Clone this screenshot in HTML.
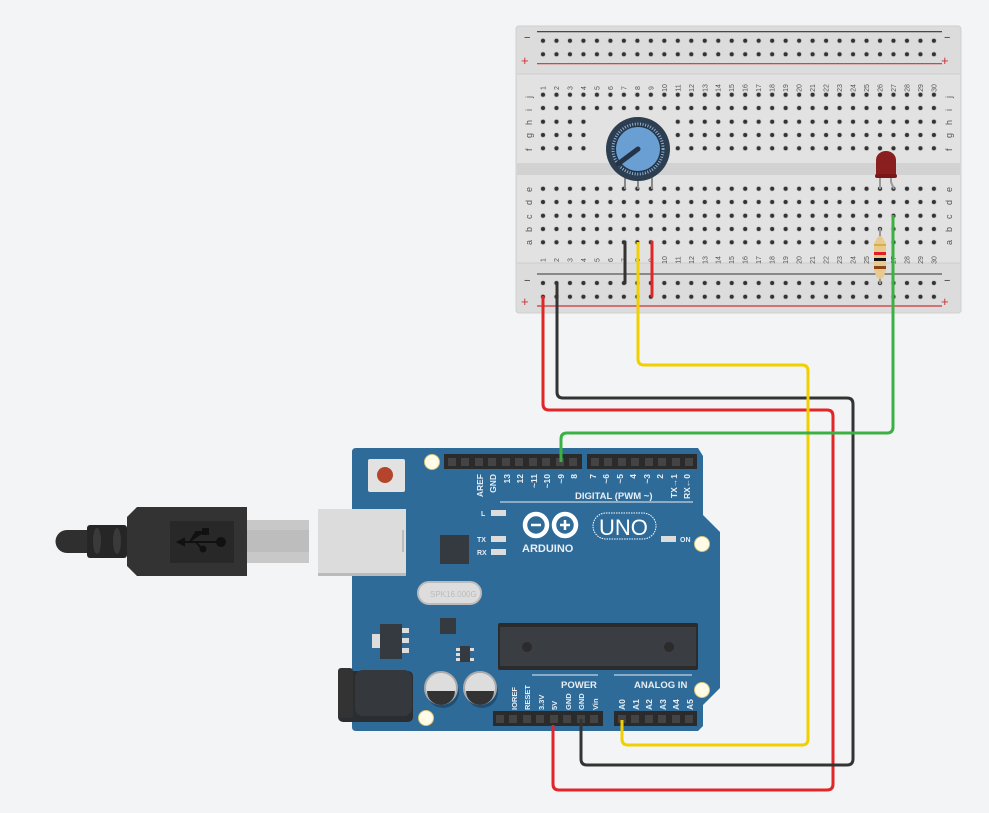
<!DOCTYPE html>
<html><head><meta charset="utf-8"><style>
html,body{margin:0;padding:0;background:#f3f4f6;}
svg{display:block;}
text{font-family:"Liberation Sans",sans-serif;}
</style></head><body>
<svg width="989" height="813" viewBox="0 0 989 813" xmlns="http://www.w3.org/2000/svg">
<rect width="989" height="813" fill="#f3f4f6"/>

<!-- Breadboard -->
<rect x="516" y="26" width="445" height="287" rx="3" fill="#dcdcdc" stroke="#cfcfcf"/>
<rect x="517" y="74" width="443" height="189" fill="#e2e2e2"/>
<rect x="517" y="163" width="443" height="12" fill="#d2d2d2"/>
<line x1="517" y1="74" x2="960" y2="74" stroke="#cdcdcd"/>
<line x1="517" y1="263" x2="960" y2="263" stroke="#cdcdcd"/>
<line x1="537" y1="31.7" x2="942" y2="31.7" stroke="#333" stroke-width="1.2"/>
<line x1="537" y1="63.7" x2="942" y2="63.7" stroke="#c33" stroke-width="1.2"/>
<line x1="537" y1="274" x2="942" y2="274" stroke="#555" stroke-width="1.2"/>
<line x1="537" y1="306" x2="942" y2="306" stroke="#c33" stroke-width="1.2"/>
<g font-size="11" fill="#333">
<text x="524" y="41">−</text><text x="944" y="41">−</text>
<text x="524" y="284">−</text><text x="944" y="284">−</text>
</g>
<g font-size="13" fill="#c33">
<text x="521" y="65">+</text><text x="941" y="65">+</text>
<text x="521" y="306">+</text><text x="941" y="306">+</text>
</g>
<g fill="#333" id="allholes"></g>

<g font-size="7" fill="#555" id="nums"></g>
<g font-size="9" fill="#555">
<text transform="translate(532,98) rotate(-90)">j</text>
<text transform="translate(532,111) rotate(-90)">i</text>
<text transform="translate(532,125) rotate(-90)">h</text>
<text transform="translate(532,138) rotate(-90)">g</text>
<text transform="translate(532,151) rotate(-90)">f</text>
<text transform="translate(532,192) rotate(-90)">e</text>
<text transform="translate(532,205) rotate(-90)">d</text>
<text transform="translate(532,219) rotate(-90)">c</text>
<text transform="translate(532,232) rotate(-90)">b</text>
<text transform="translate(532,245) rotate(-90)">a</text>
<text transform="translate(952,98) rotate(-90)">j</text>
<text transform="translate(952,111) rotate(-90)">i</text>
<text transform="translate(952,125) rotate(-90)">h</text>
<text transform="translate(952,138) rotate(-90)">g</text>
<text transform="translate(952,151) rotate(-90)">f</text>
<text transform="translate(952,192) rotate(-90)">e</text>
<text transform="translate(952,205) rotate(-90)">d</text>
<text transform="translate(952,219) rotate(-90)">c</text>
<text transform="translate(952,232) rotate(-90)">b</text>
<text transform="translate(952,245) rotate(-90)">a</text>
</g>

<!-- Potentiometer -->
<g stroke="#888" stroke-width="2"><line x1="625" y1="175" x2="625" y2="189"/><line x1="638" y1="175" x2="638" y2="189"/><line x1="652" y1="175" x2="652" y2="189"/></g>
<circle cx="638" cy="149" r="32" fill="#2c3e50"/>
<circle cx="638" cy="149" r="25" fill="#243444"/>
<circle cx="638" cy="149" r="25" fill="none" stroke="#8fb3d9" stroke-width="3" stroke-dasharray="1 1.6"/>
<circle cx="638" cy="149" r="22" fill="#6a9fd4"/>
<line x1="638" y1="149" x2="618" y2="164" stroke="#243444" stroke-width="5" stroke-linecap="round"/>

<!-- LED -->
<g stroke="#999" stroke-width="2" fill="none"><line x1="880" y1="176" x2="880" y2="189"/><path d="M891 176 L891 182 L894 189"/></g>
<path d="M876 177 L876 160 A10 9 0 0 1 896 160 L896 177 Z" fill="#8b1f1f"/>
<rect x="875" y="174" width="22" height="4" rx="2" fill="#7a1818"/>

<!-- Resistor -->
<line x1="880" y1="228" x2="880" y2="284" stroke="#999" stroke-width="2"/>
<path d="M876 240 Q880 232 884 240 L886 244 L886 270 L884 276 Q880 282 876 276 L874 270 L874 244 Z" fill="#e8c98f"/>
<rect x="874" y="244" width="12" height="2" fill="#d8b040"/>
<rect x="874" y="252" width="12" height="3" fill="#e02020"/>
<rect x="874" y="258" width="12" height="3" fill="#111"/>
<rect x="874" y="266" width="12" height="3" fill="#8b4513"/>

<!-- Arduino board -->
<path d="M356 448 L698 448 L703 456 L703 515 L720 532 L720 688 L703 705 L703 726 L698 731 L356 731 Q352 731 352 727 L352 452 Q352 448 356 448 Z" fill="#2e6b99"/>
<circle cx="432" cy="462" r="7.5" fill="#fffbe6" stroke="#d9c47a"/>
<circle cx="702" cy="544" r="7.5" fill="#fffbe6" stroke="#d9c47a"/>
<circle cx="702" cy="690" r="7.5" fill="#fffbe6" stroke="#d9c47a"/>
<circle cx="426" cy="718" r="7.5" fill="#fffbe6" stroke="#d9c47a"/>
<rect x="368" y="459" width="37" height="33" rx="2" fill="#e2e2e2"/>
<circle cx="385" cy="475" r="8" fill="#b5442c"/>
<rect x="444" y="454" width="138" height="15" fill="#2b2b2b"/>
<rect x="587" y="454" width="110" height="15" fill="#2b2b2b"/>
<rect x="493" y="711" width="110" height="15" fill="#2b2b2b"/>
<rect x="614" y="711" width="83" height="15" fill="#2b2b2b"/>
<g fill="#444">
<rect x="448" y="458" width="8" height="8"/><rect x="461" y="458" width="8" height="8"/><rect x="475" y="458" width="8" height="8"/><rect x="488" y="458" width="8" height="8"/><rect x="502" y="458" width="8" height="8"/><rect x="515" y="458" width="8" height="8"/><rect x="529" y="458" width="8" height="8"/><rect x="542" y="458" width="8" height="8"/><rect x="556" y="458" width="8" height="8"/><rect x="569" y="458" width="8" height="8"/>
<rect x="591" y="458" width="8" height="8"/><rect x="604" y="458" width="8" height="8"/><rect x="618" y="458" width="8" height="8"/><rect x="631" y="458" width="8" height="8"/><rect x="645" y="458" width="8" height="8"/><rect x="658" y="458" width="8" height="8"/><rect x="672" y="458" width="8" height="8"/><rect x="685" y="458" width="8" height="8"/>
<rect x="496" y="715" width="8" height="8"/><rect x="509" y="715" width="8" height="8"/><rect x="523" y="715" width="8" height="8"/><rect x="536" y="715" width="8" height="8"/><rect x="550" y="715" width="8" height="8"/><rect x="563" y="715" width="8" height="8"/><rect x="577" y="715" width="8" height="8"/><rect x="590" y="715" width="8" height="8"/>
<rect x="618" y="715" width="8" height="8"/><rect x="631" y="715" width="8" height="8"/><rect x="645" y="715" width="8" height="8"/><rect x="658" y="715" width="8" height="8"/><rect x="672" y="715" width="8" height="8"/><rect x="685" y="715" width="8" height="8"/>
</g>
<g font-size="8.5" font-weight="bold" fill="#e8eef4">
<g text-anchor="end">
<text transform="translate(483,474) rotate(-90)">AREF</text>
<text transform="translate(496,474) rotate(-90)">GND</text>
<text transform="translate(510,474) rotate(-90)">13</text>
<text transform="translate(523,474) rotate(-90)">12</text>
<text transform="translate(537,474) rotate(-90)">~11</text>
<text transform="translate(550,474) rotate(-90)">~10</text>
<text transform="translate(564,474) rotate(-90)">~9</text>
<text transform="translate(577,474) rotate(-90)">8</text>
<text transform="translate(596,474) rotate(-90)">7</text>
<text transform="translate(609,474) rotate(-90)">~6</text>
<text transform="translate(623,474) rotate(-90)">~5</text>
<text transform="translate(636,474) rotate(-90)">4</text>
<text transform="translate(650,474) rotate(-90)">~3</text>
<text transform="translate(663,474) rotate(-90)">2</text>
<text transform="translate(677,474) rotate(-90)">TX→1</text>
<text transform="translate(690,474) rotate(-90)">RX←0</text>
</g>
<text x="575" y="499" font-size="9.5">DIGITAL (PWM ~)</text>
<text x="561" y="688" font-size="9.5">POWER</text>
<text x="634" y="688" font-size="9.5">ANALOG IN</text>
<text transform="translate(517,710) rotate(-90)" font-size="7.5">IOREF</text>
<text transform="translate(530,710) rotate(-90)" font-size="7.5">RESET</text>
<text transform="translate(544,710) rotate(-90)" font-size="7.5">3.3V</text>
<text transform="translate(557,710) rotate(-90)" font-size="7.5">5V</text>
<text transform="translate(571,710) rotate(-90)" font-size="7.5">GND</text>
<text transform="translate(584,710) rotate(-90)" font-size="7.5">GND</text>
<text transform="translate(598,710) rotate(-90)" font-size="7.5">Vin</text>
<text transform="translate(625,710) rotate(-90)">A0</text>
<text transform="translate(639,710) rotate(-90)">A1</text>
<text transform="translate(652,710) rotate(-90)">A2</text>
<text transform="translate(666,710) rotate(-90)">A3</text>
<text transform="translate(679,710) rotate(-90)">A4</text>
<text transform="translate(693,710) rotate(-90)">A5</text>
<text x="481" y="516" font-size="7">L</text>
<text x="477" y="542" font-size="7">TX</text>
<text x="477" y="555" font-size="7">RX</text>
<text x="680" y="542" font-size="7">ON</text>
<text x="522" y="552" font-size="11">ARDUINO</text>
</g>
<line x1="500" y1="502" x2="693" y2="502" stroke="#e8eef4"/>
<line x1="532" y1="675" x2="598" y2="675" stroke="#e8eef4"/>
<line x1="614" y1="675" x2="692" y2="675" stroke="#e8eef4"/>
<g fill="#dcdcdc"><rect x="491" y="510" width="15" height="6"/><rect x="491" y="536" width="15" height="6"/><rect x="491" y="549" width="15" height="6"/><rect x="661" y="536" width="15" height="6"/></g>
<g fill="none" stroke="#fff" stroke-width="4.5"><circle cx="536" cy="525" r="11"/><circle cx="565" cy="525" r="11"/></g>
<g stroke="#fff" stroke-width="2.5"><line x1="531" y1="525" x2="541" y2="525"/><line x1="560" y1="525" x2="570" y2="525"/><line x1="565" y1="520" x2="565" y2="530"/></g>
<rect x="593" y="513" width="63" height="26" rx="13" fill="none" stroke="#fff" stroke-dasharray="1.5 1"/>
<text x="599" y="535" font-size="22" fill="#fff">UNO</text>
<rect x="440" y="535" width="29" height="29" fill="#353a40"/>
<rect x="440" y="618" width="16" height="16" fill="#353a40"/>
<rect x="418" y="582" width="63" height="22" rx="11" fill="#ddd" stroke="#bbb" stroke-width="2"/>
<text x="430" y="597" font-size="8" fill="#bbb">SPK16.000G</text>
<rect x="498" y="623" width="200" height="47" rx="2" fill="#2b2b2b"/>
<rect x="500" y="627" width="196" height="39" fill="#3a3d42"/>
<circle cx="527" cy="647" r="5" fill="#2b2b2b"/><circle cx="669" cy="647" r="5" fill="#2b2b2b"/>
<rect x="380" y="624" width="22" height="35" fill="#353a40"/>
<rect x="372" y="634" width="8" height="14" fill="#ddd"/>
<g fill="#ddd"><rect x="402" y="628" width="7" height="5"/><rect x="402" y="638" width="7" height="5"/><rect x="402" y="648" width="7" height="5"/></g>
<rect x="460" y="646" width="10" height="16" fill="#353a40"/>
<g fill="#ddd"><rect x="456" y="648" width="4" height="3"/><rect x="456" y="653" width="4" height="3"/><rect x="456" y="658" width="4" height="3"/><rect x="470" y="648" width="4" height="3"/><rect x="470" y="658" width="4" height="3"/></g>
<g><circle cx="443" cy="692" r="16" fill="#1e4f75"/><circle cx="441" cy="688" r="16" fill="#ddd" stroke="#aaa" stroke-width="2"/><path d="M427 691 L455 691 A14 14 0 0 1 427 691 Z" fill="#333"/></g>
<g><circle cx="482" cy="692" r="16" fill="#1e4f75"/><circle cx="480" cy="688" r="16" fill="#ddd" stroke="#aaa" stroke-width="2"/><path d="M466 691 L494 691 A14 14 0 0 1 466 691 Z" fill="#333"/></g>
<rect x="338" y="671" width="75" height="51" rx="5" fill="#2a2d31"/>
<rect x="338" y="668" width="15" height="50" rx="3" fill="#333"/>
<rect x="355" y="670" width="57" height="46" rx="8" fill="#35383d"/>
<rect x="318" y="509" width="88" height="66" fill="#dcdcdc"/>
<rect x="318" y="573" width="88" height="3" fill="#bbb"/>
<rect x="402" y="530" width="2" height="22" fill="#bbb"/>
<!-- USB cable -->
<rect x="247" y="520" width="62" height="43" fill="#c8c8c8"/>
<rect x="247" y="530" width="62" height="22" fill="#bdbdbd"/>
<path d="M67 530 L90 530 L90 553 L67 553 A11.5 11.5 0 0 1 67 530 Z" fill="#2f2f2f"/>
<rect x="87" y="525" width="40" height="33" rx="3" fill="#262626"/>
<ellipse cx="97" cy="541" rx="4" ry="13" fill="#3a3a3a"/><ellipse cx="117" cy="541" rx="4" ry="13" fill="#3a3a3a"/>
<path d="M137 507 L247 507 L247 576 L137 576 L127 566 L127 517 Z" fill="#333"/>
<rect x="170" y="521" width="64" height="42" fill="#282828"/>
<g stroke="#111" stroke-width="2" fill="#111"><line x1="180" y1="542" x2="220" y2="542"/><circle cx="221" cy="542" r="4"/><path d="M190 542 L196 532 L205 532"/><path d="M196 542 L203 550"/><circle cx="203" cy="549" r="2.5"/><rect x="203" y="529" width="5" height="5"/><path d="M178 542 L184 539 L184 545 Z"/></g>

<!-- Wires -->
<g fill="none" stroke-width="3" stroke-linejoin="round">
<path d="M543 296 L543 404 Q543 410 549 410 L827 410 Q833 410 833 416 L833 784 Q833 790 827 790 L559 790 Q553 790 553 784 L553 725" stroke="#e02626"/>
<path d="M557 283 L557 392 Q557 398 563 398 L847 398 Q853 398 853 404 L853 759 Q853 765 847 765 L587 765 Q581 765 581 759 L581 719" stroke="#333"/>
<path d="M638 242 L638 359 Q638 365 644 365 L802 365 Q808 365 808 371 L808 739 Q808 745 802 745 L628 745 Q622 745 622 739 L622 720" stroke="#f2d000"/>
<path d="M893 215 L893 427 Q893 433 887 433 L567 433 Q561 433 561 439 L561 462" stroke="#3cb043"/>
<path d="M625 242 L625 283" stroke="#333" stroke-linecap="round"/>
<path d="M652 242 L652 296" stroke="#e02626" stroke-linecap="round"/>
</g>
</svg>
<script>
(function(){
var ns="http://www.w3.org/2000/svg";
var g=document.getElementById("allholes");
var nums=document.getElementById("nums");
var rows=[40.7,54.3,94.7,108,121.7,135,148.3,188.7,202,215.7,229,242.3,283,296.7];
function hole(x,y){var c=document.createElementNS(ns,"circle");c.setAttribute("cx",x);c.setAttribute("cy",y);c.setAttribute("r","2.8");c.setAttribute("fill","#c4c4c4");g.appendChild(c);
var d=document.createElementNS(ns,"circle");d.setAttribute("cx",x);d.setAttribute("cy",y);d.setAttribute("r","2");d.setAttribute("fill","#333");g.appendChild(d);}
for(var r=0;r<rows.length;r++){for(var i=0;i<30;i++){var x=543+i*13.48;
if((r>=4&&r<=6)&&(i>=4&&i<=9))continue;hole(x,rows[r]);}}
for(var i=0;i<30;i++){var x=543+i*13.48;[85,257].forEach(function(y){var t=document.createElementNS(ns,"text");t.setAttribute("transform","translate("+(x+2.5)+","+(y+3)+") rotate(-90)");t.setAttribute("text-anchor","middle");t.textContent=String(i+1);nums.appendChild(t);});}
})();
</script>
</body></html>
